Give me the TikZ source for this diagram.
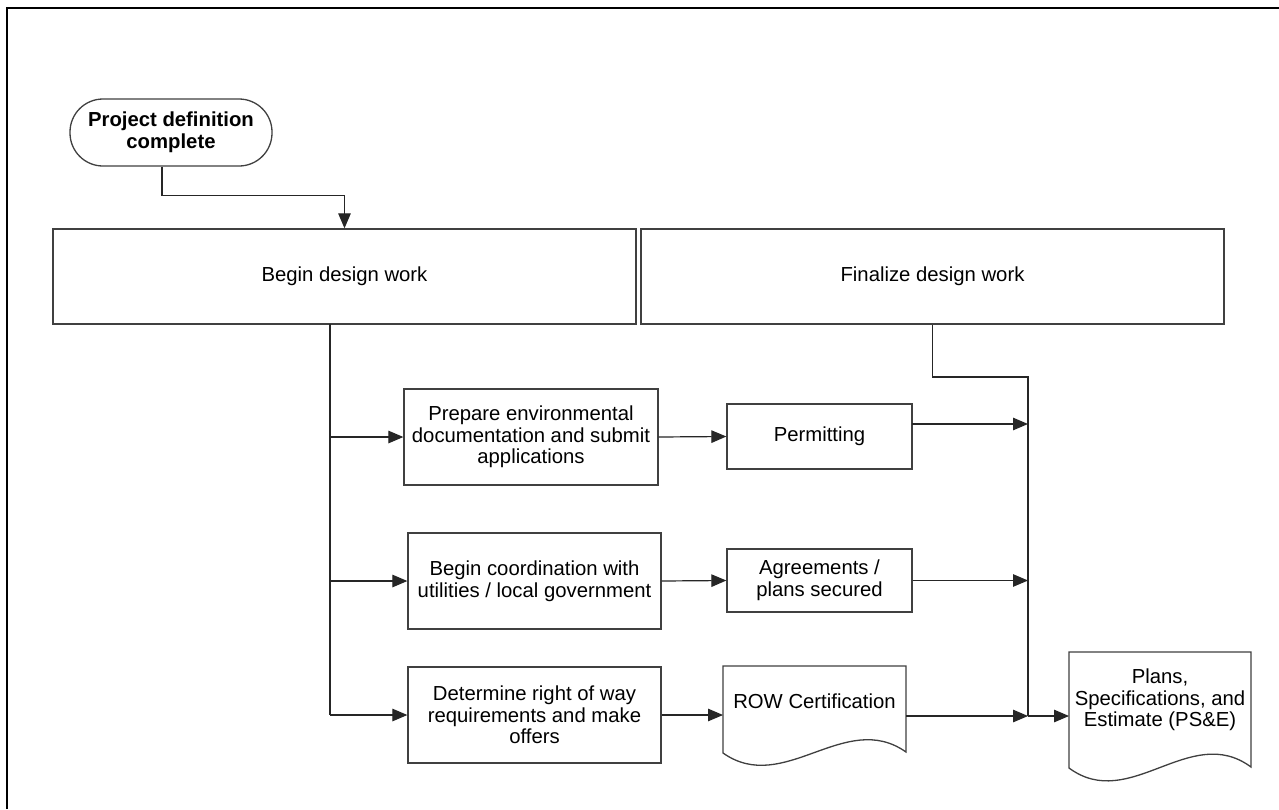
\documentclass[tikz,border=0pt]{standalone}
\usepackage{fontspec}
\setmainfont{Liberation Sans}
\usetikzlibrary{arrows.meta}
\newcommand{\diafont}{\fontsize{20.3pt}{21.7pt}\selectfont}
\begin{document}
\begin{tikzpicture}[x=1pt,y=-1pt,
  frame/.style={draw=black, line width=2.4pt},
  box/.style={draw=black!75, line width=1.3pt, fill=white, inner sep=0pt,
    align=center, font=\diafont},
  term/.style={box, rounded corners=33pt, font=\diafont\bfseries},
  docline/.style={draw=black!75, line width=1.3pt, fill=white},
  txt/.style={inner sep=0pt, align=center, font=\diafont},
  conn/.style={draw=black!85, line width=1.2pt},
  arr/.style={conn, -{Triangle[length=15pt,width=12.5pt]}}]

% page and outer frame
\useasboundingbox (0,0) rectangle (1279,809);
\fill[white] (0,0) rectangle (1279,809);
\draw[frame] (7,809) -- (7,8) -- (1279,8);

% start terminal
\node[term, minimum width=202pt, minimum height=67pt] (start) at (171,132.5)
  {Project definition\\complete};

% design phases
\node[box, minimum width=583pt, minimum height=95pt] (begin) at (344.5,276.5) {Begin design work};
\node[box, minimum width=583pt, minimum height=95pt] (final) at (932.5,276.5) {Finalize design work};

% parallel activities
\node[box, minimum width=254pt, minimum height=96pt] (env) at (531,437)
  {Prepare environmental\\documentation and submit\\applications};
\node[box, minimum width=253pt, minimum height=96pt] (coord) at (534.5,581)
  {Begin coordination with\\utilities / local government};
\node[box, minimum width=253pt, minimum height=96pt] (det) at (534.5,715)
  {Determine right of way\\requirements and make\\offers};

% outcomes
\node[box, minimum width=185pt, minimum height=65pt] (permit) at (819.5,436.5) {Permitting};
\node[box, minimum width=185pt, minimum height=63pt] (agree) at (819.5,580.5) {Agreements /\\plans secured};

% document shapes
\draw[docline] (723,666) -- (906,666) -- (906,752)
  .. controls (845,709) and (784,796) .. (723,753) -- cycle;
\node[txt] (rowc) at (814.5,701) {ROW Certification};
\draw[docline] (1069,652) -- (1251,652) -- (1251,767)
  .. controls (1190,722) and (1130,813) .. (1069,768) -- cycle;
\node[txt] (pse) at (1160,700) {Plans,\\Specifications, and\\Estimate (PS\&E)};

% connection points
\coordinate (rowcW) at (723,715);
\coordinate (rowcE) at (906,716);
\coordinate (pseW) at (1069,716);
\coordinate (tk) at (330,324);
\coordinate (fin) at (1028,377);
\coordinate (jn) at (1028,716);
\coordinate (pOut) at (912,424);

% connectors
\draw[arr] ([xshift=-9pt]start.south) -- ++(0,29) -| (begin.north);
\draw[conn] (tk) -- (tk |- det.west);
\draw[arr] (tk |- env.west) -- (env.west);
\draw[arr] (tk |- coord.west) -- (coord.west);
\draw[arr] (tk |- det.west) -- (det.west);
\draw[arr] (env.east) -- (permit.west);
\draw[arr] (coord.east) -- (agree.west);
\draw[arr] (det.east) -- (rowcW);
\draw[conn] (final.south) |- (fin) -- (jn);
\draw[arr] (pOut) -- (pOut -| jn);
\draw[arr] (agree.east) -- (agree.east -| jn);
\draw[arr] (rowcE) -- (jn);
\draw[arr] (jn) -- (pseW);
\end{tikzpicture}
\end{document}
